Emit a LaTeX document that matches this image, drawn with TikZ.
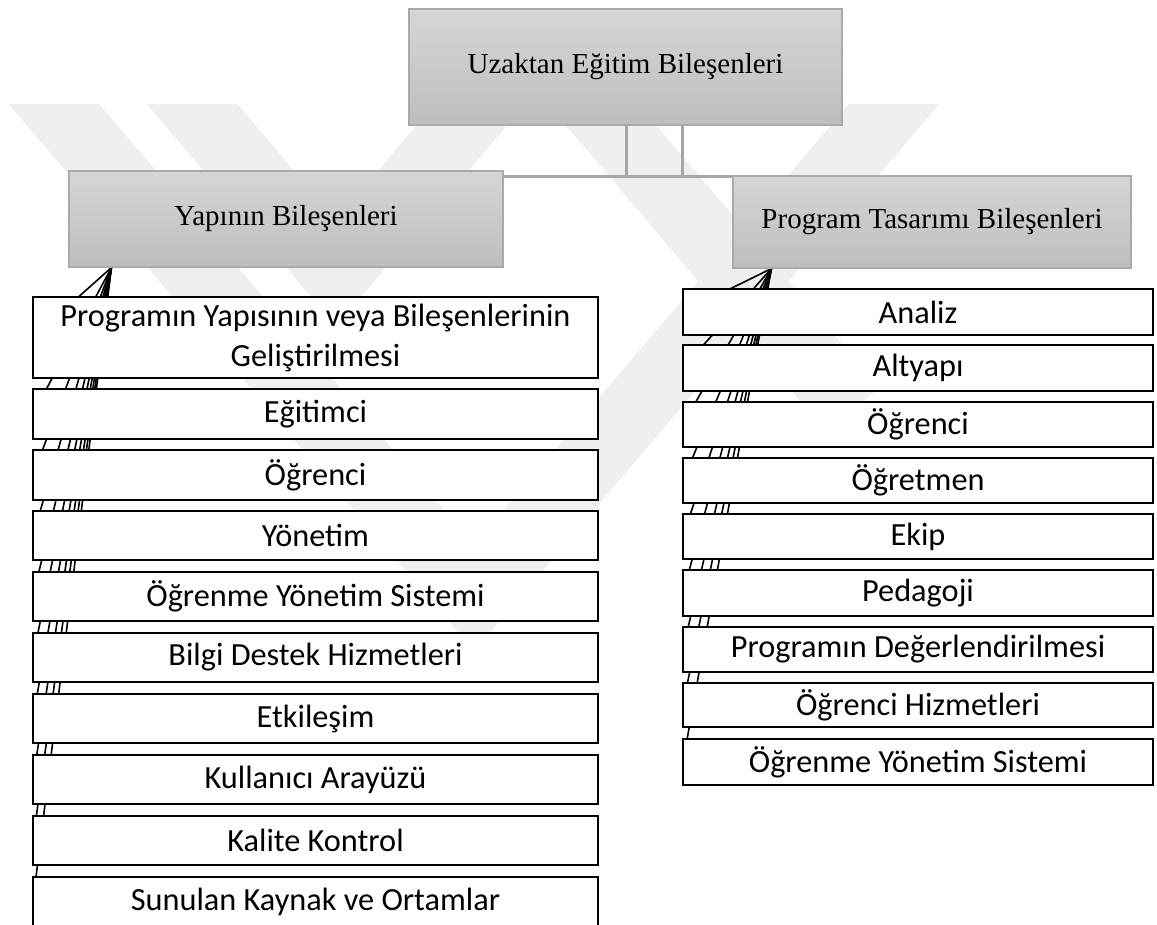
\documentclass[tikz,border=0pt]{standalone}
\usepackage{fontspec}
\setmainfont{Liberation Serif}
\newfontfamily\carl{Carlito}
\definecolor{gtop}{RGB}{214,214,214}
\definecolor{gbot}{RGB}{190,190,190}
\definecolor{gborder}{RGB}{170,170,170}
\definecolor{glinec}{RGB}{166,166,166}
\definecolor{wmc}{RGB}{239,239,239}
\pgfdeclarelayer{wmlayer}
\pgfdeclarelayer{fanlayer}
\pgfsetlayers{wmlayer,fanlayer,main}
\newcommand\bx[7]{\node[#1, minimum width={#5-#3}, minimum height={#6-#4}] (#2) at ({(#3+#5)/2},{(#4+#6)/2}) {#7};}
\begin{document}
\begin{tikzpicture}[x=1pt,y=-1pt,
  gbox/.style={draw=gborder, line width=1.2pt, top color=gtop, bottom color=gbot, inner sep=0pt, font=\fontsize{29}{34}\selectfont},
  wbox/.style={draw=black, line width=2.7pt, fill=white, inner sep=0pt, outer sep=0pt, font=\carl\fontsize{32.3}{40}\selectfont, align=center},
  fan/.style={draw=black, line width=1.6pt},
  gline/.style={draw=glinec, line width=3pt},
  wm/.style={draw=wmc, line width=69pt, line join=miter}]
\useasboundingbox (0,0) rectangle (1157,925);
% watermark
\begin{pgfonlayer}{wmlayer}
\clip (0,105) rectangle (1157,925);
\draw[wm] (146,50) -- (336,273) -- (526,50);
\draw[wm] (8,50) -- (474,598) -- (940,50);
\draw[wm] (547,50) -- (853,410);
\end{pgfonlayer}
% heads
\bx{gbox}{top}{409}{9}{842}{125}{Uzaktan Eğitim Bileşenleri}
\bx{gbox}{yb}{69}{171}{503}{267}{Yapının Bileşenleri}
\bx{gbox}{pt}{733}{176}{1131}{268}{Program Tasarımı Bileşenleri}
\coordinate (j1) at (626,177);
\coordinate (j2) at (682,177);
\draw[gline] (top.south -| j1) -- (j1);
\draw[gline] (top.south -| j2) -- (j2);
\draw[gline] (yb.east |- j1) -- (pt.west |- j2);
\coordinate (lo) at ([xshift=43pt]yb.south west);
\coordinate (ro) at ([xshift=39pt]pt.south west);
\def\lbox#1#2#3#4{\bx{wbox}{#1}{33}{#2}{598}{#3}{#4}}
\def\rbox#1#2#3#4{\bx{wbox}{#1}{683}{#2}{1153}{#3}{#4}}
% boxes
\lbox{l1}{297}{378}{Programın Yapısının veya Bileşenlerinin\\Geliştirilmesi}
\lbox{l2}{389}{439}{Eğitimci}
\lbox{l3}{450}{500}{Öğrenci}
\lbox{l4}{511}{560}{Yönetim}
\lbox{l5}{572}{621}{Öğrenme Yönetim Sistemi}
\lbox{l6}{633}{682}{Bilgi Destek Hizmetleri}
\lbox{l7}{694}{743}{Etkileşim}
\lbox{l8}{755}{804}{Kullanıcı Arayüzü}
\lbox{l9}{816}{865}{Kalite Kontrol}
\lbox{l10}{877}{926}{Sunulan Kaynak ve Ortamlar}
\rbox{r1}{289}{335}{Analiz}
\rbox{r2}{345}{391}{Altyapı}
\rbox{r3}{402}{447}{Öğrenci}
\rbox{r4}{458}{503}{Öğretmen}
\rbox{r5}{514}{559}{Ekip}
\rbox{r6}{570}{616}{Pedagoji}
\rbox{r7}{627}{672}{Programın Değerlendirilmesi}
\rbox{r8}{683}{727}{Öğrenci Hizmetleri}
\rbox{r9}{739}{785}{Öğrenme Yönetim Sistemi}
% fan connectors, drawn beneath the boxes
\begin{pgfonlayer}{fanlayer}
\foreach \n in {l1,l2,l3,l4,l5,l6,l7,l8,l9,l10}{\draw[fan] (lo) -- (\n.west);}
\foreach \n in {r1,r2,r3,r4,r5,r6,r7,r8,r9}{\draw[fan] (ro) -- (\n.west);}
\end{pgfonlayer}
\end{tikzpicture}
\end{document}
